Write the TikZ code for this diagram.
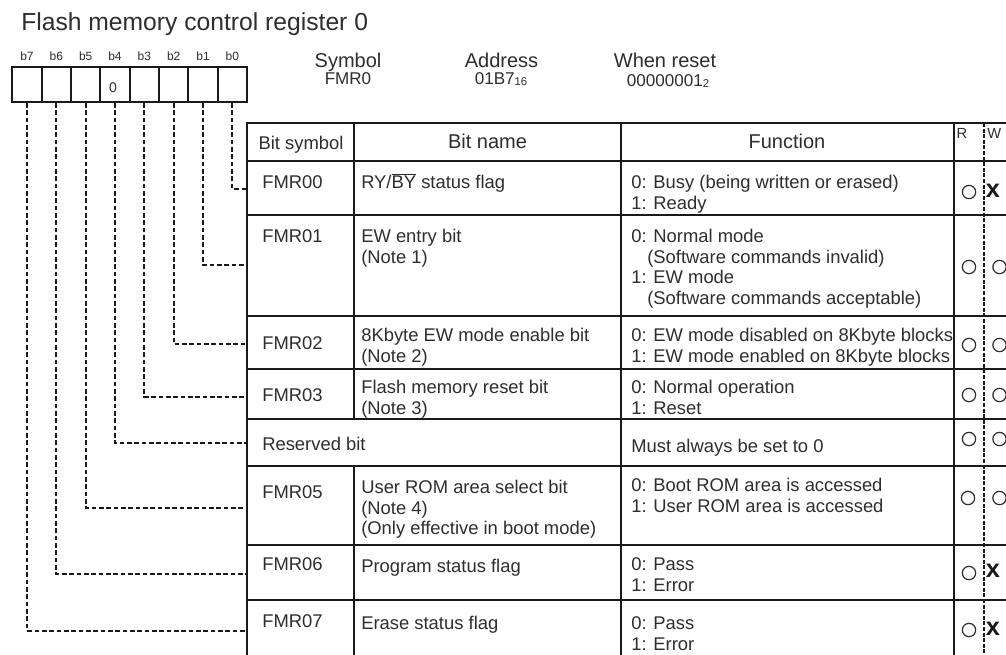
\documentclass[tikz,border=0pt]{standalone}
\usepackage{fontspec}
\setmainfont{Liberation Sans}
\definecolor{textc}{HTML}{2E2E2E}
\definecolor{linec}{HTML}{1A1A1A}
\begin{document}
\begin{tikzpicture}[x=0.75pt,y=-0.75pt,
  tline/.style={draw=linec,line width=1.4pt},
  conn/.style={draw=linec,line width=1.5pt,dash pattern=on 3.5pt off 2pt},
  rwline/.style={draw=linec,line width=1.2pt,dash pattern=on 3pt off 1.2pt},
  cell/.style={draw=linec,line width=1.3pt,minimum width=22pt,minimum height=26.25pt,inner sep=0pt},
  txt/.style={inner sep=0pt,text=textc,font=\fontsize{13.8}{15.4}\selectfont},
  stxt/.style={txt,anchor=base west},
  mtxt/.style={txt,align=left,anchor=north west,yshift=10.78pt},
  hdr/.style={inner sep=0pt,text=textc,font=\fontsize{15}{18}\selectfont,anchor=base},
  info/.style={inner sep=0pt,text=textc,font=\fontsize{15}{18}\selectfont,anchor=base},
  infov/.style={inner sep=0pt,text=textc,font=\fontsize{12.8}{14}\selectfont,anchor=base},
  blbl/.style={inner sep=0pt,text=textc,font=\fontsize{9}{10}\selectfont,anchor=base},
  okmark/.style={draw=textc,line width=0.9pt,circle,minimum size=10pt,inner sep=0pt},
  ngmark/.style={inner sep=0pt,text=linec,font=\bfseries\fontsize{19}{19}\selectfont}
]
\useasboundingbox (0,0) rectangle (1006,654);
\fill[white] (0,0) rectangle (1006,654);
\clip (0,0) rectangle (1006,654);

% title
\node[txt,font=\fontsize{18.5}{20}\selectfont,anchor=base west] (title) at (21,30) {Flash memory control register 0};

% register cells and bit labels
\foreach \i/\x in {7/27.0,6/56.3,5/85.7,4/115.0,3/144.4,2/173.7,1/203.0,0/232.4}{
  \node[cell] (c\i) at (\x,84.5) {};
  \node[blbl] (l\i) at (\x,60.3) {b\i};
}
\node[txt,font=\fontsize{10.5}{12}\selectfont,anchor=base] (zero) at (113,92.5) {0};

% symbol / address / reset
\node[info] (sym) at (348,67.3) {Symbol};
\node[infov] (symv) at (348,84.5) {FMR0};
\node[info] (adr) at (501.5,67.3) {Address};
\node[infov] (adrv) at (501,84.5) {01B7\raisebox{-1pt}{\fontsize{8.5}{9}\selectfont 16}};
\node[info] (rst) at (665,67.3) {When reset};
\node[infov] (rstv) at (668,86) {00000001\raisebox{-1pt}{\fontsize{8.5}{9}\selectfont 2}};

% table grid
\foreach \y in {123,161,215,316,369,419,466,545,600}{
  \draw[tline] (247,\y) -- (1012,\y);
}
\draw[tline] (247,122.3) -- (247,660);
\draw[tline] (354,122.3) -- (354,419);
\draw[tline] (354,466) -- (354,660);
\draw[tline] (621,122.3) -- (621,660);
\draw[tline] (954,122.3) -- (954,660);
\draw[rwline] (984,123) -- (984,660);

% header
\node[hdr,font=\fontsize{13.8}{15.4}\selectfont] (hsym) at (301,149.5) {Bit symbol};
\node[hdr] (hname) at (487.5,148) {Bit name};
\node[hdr] (hfun) at (787,148) {Function};
\node[hdr,font=\fontsize{11}{12}\selectfont] (hr) at (962,138) {R};
\node[hdr,font=\fontsize{11}{12}\selectfont,anchor=base west] (hw) at (987,138) {W};

% row FMR00
\node[stxt] (s0) at (262,188.5) {FMR00};
\node[stxt] (n0) at (361,188.5) {RY/$\overline{\mbox{BY}}$ status flag};
\node[mtxt] (f0) at (631,188.5) {\strut 0: Busy (being written or erased)\\1: Ready};
% row FMR01
\node[stxt] (s1) at (262,242.5) {FMR01};
\node[mtxt] (n1) at (361,242.5) {\strut EW entry bit\\(Note 1)};
\node[mtxt] (f1) at (631,242.5) {\strut 0: Normal mode\\\hspace*{12pt}(Software commands invalid)\\1: EW mode\\\hspace*{12pt}(Software commands acceptable)};
% row FMR02
\node[stxt] (s2) at (262,349.5) {FMR02};
\node[mtxt] (n2) at (361,341.5) {\strut 8Kbyte EW mode enable bit\\(Note 2)};
\node[mtxt] (f2) at (631,341.5) {\strut 0: EW mode disabled on 8Kbyte blocks\\1: EW mode enabled on 8Kbyte blocks};
% row FMR03
\node[stxt] (s3) at (262,401.5) {FMR03};
\node[mtxt] (n3) at (361,393.5) {\strut Flash memory reset bit\\(Note 3)};
\node[mtxt] (f3) at (631,393.5) {\strut 0: Normal operation\\1: Reset};
% reserved
\node[stxt] (s4) at (262,450.5) {Reserved bit};
\node[stxt] (f4) at (631,452.5) {Must always be set to 0};
% row FMR05
\node[stxt] (s5) at (262,498.5) {FMR05};
\node[mtxt] (n5) at (361,493.5) {\strut User ROM area select bit\\(Note 4)\\(Only effective in boot mode)};
\node[mtxt] (f5) at (631,491.5) {\strut 0: Boot ROM area is accessed\\1: User ROM area is accessed};
% row FMR06
\node[stxt] (s6) at (262,570.5) {FMR06};
\node[stxt] (n6) at (361,572.5) {Program status flag};
\node[mtxt] (f6) at (631,570.5) {\strut 0: Pass\\1: Error};
% row FMR07
\node[stxt] (s7) at (262,627.5) {FMR07};
\node[stxt] (n7) at (361,629.5) {Erase status flag};
\node[mtxt] (f7) at (631,629.5) {\strut 0: Pass\\1: Error};

% R / W marks
\node[okmark] (r0) at (969,192) {};
\node[ngmark] (w0) at (993,191) {x};
\node[okmark] (r1) at (969,267) {};
\node[okmark] (w1) at (999.5,267) {};
\node[okmark] (r2) at (969,345) {};
\node[okmark] (w2) at (999.5,345) {};
\node[okmark] (r3) at (969,395) {};
\node[okmark] (w3) at (999.5,395) {};
\node[okmark] (r4) at (969,439) {};
\node[okmark] (w4) at (999.5,439) {};
\node[okmark] (r5) at (968,498) {};
\node[okmark] (w5) at (999.5,498) {};
\node[okmark] (r6) at (969,573) {};
\node[ngmark] (w6) at (993,571) {x};
\node[okmark] (r7) at (969,630) {};
\node[ngmark] (w7) at (993,629) {x};

% connectors from bits to rows
\foreach \i/\y in {0/189,1/265,2/344,3/396.5,4/443,5/507.5,6/574,7/630.5}{
  \coordinate (p\i) at (247,\y);
  \draw[conn] (c\i.south) |- (p\i);
}
\end{tikzpicture}
\end{document}
